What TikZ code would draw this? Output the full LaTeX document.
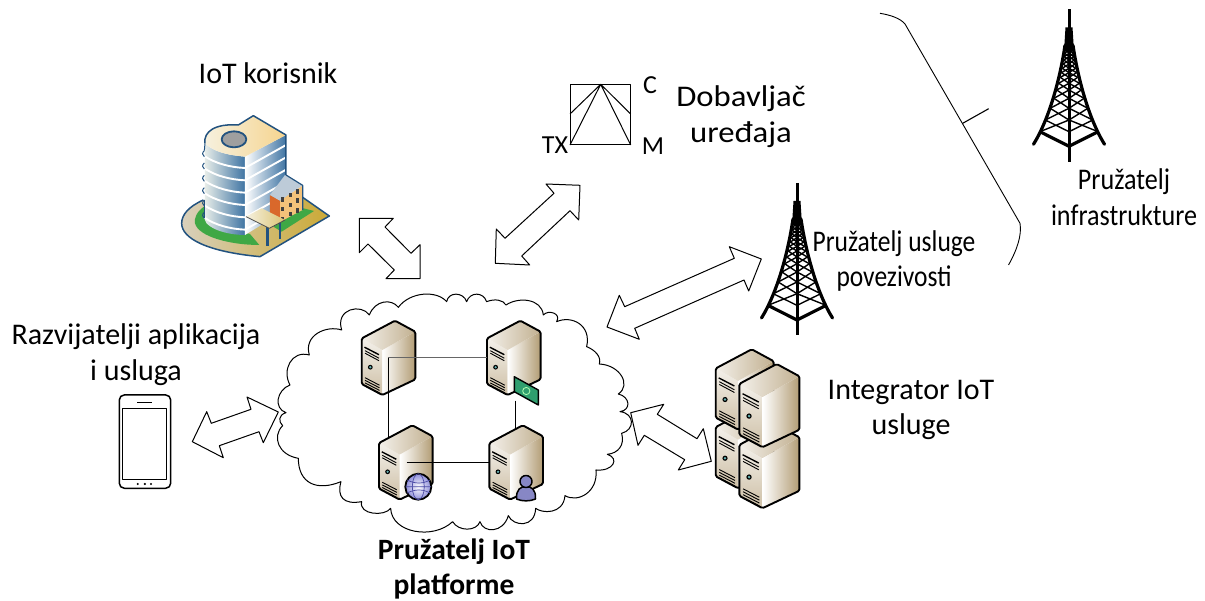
\documentclass[tikz,border=0pt]{standalone}
\usepackage{fontspec}
\setmainfont{Carlito}
\definecolor{srvtan}{HTML}{B29C74}
\definecolor{bldedge}{HTML}{22527F}
\definecolor{bldgreen}{HTML}{3FA845}
\definecolor{bldA}{HTML}{E6ECE8}
\definecolor{bldB}{HTML}{A6CAD6}
\definecolor{bldC}{HTML}{3F74A3}
\definecolor{bldD}{HTML}{F6F1E0}
\definecolor{bldE}{HTML}{F6D48E}
\definecolor{baseA}{HTML}{D8D0BC}
\definecolor{baseB}{HTML}{CBA935}
\definecolor{bldO}{HTML}{D9682B}
\definecolor{bldF}{HTML}{F3C27A}
\definecolor{moneyg}{HTML}{2F9E6E}
\newcommand{\squeezed}[2]{\scalebox{#1}[1]{#2}}
\tikzset{
  lbl/.style={font=\fontsize{30}{35.5}\selectfont,align=center,inner sep=0pt},
  lblsmall/.style={font=\fontsize{26}{30}\selectfont,inner sep=0pt},
  blockarrow/.style={draw=black,fill=white,line width=1pt},
  link/.style={draw=black,line width=1.3pt},
  srvline/.style={draw=black,line width=1.9pt,rounded corners=1.5pt},
  pics/serverbox/.style={code={
    \shade[top color=srvtan!15!white,bottom color=srvtan!65!white] (-33.3,17.7) -- (-12.7,29.3) -- (-12.7,74.3) -- (-33.3,63.3) -- cycle;
    \shade[left color=white,right color=srvtan] (-12.7,29.3) -- (20.3,11) -- (20.3,58.7) -- (-12.7,74.3) -- cycle;
    \shade[left color=srvtan!15!white,right color=srvtan!80!white] (0,0) -- (20.3,11) -- (-12.7,29.3) -- (-33.3,17.7) -- cycle;
    \draw[srvline] (0,0) -- (20.3,11) -- (20.3,58.7) -- (-12.7,74.3) -- (-33.3,63.3) -- (-33.3,17.7) -- cycle;
    \draw[black,line width=1.4pt] (-30.5,26.5) -- (-16,34);
    \draw[black,line width=.9pt] (-30,30) -- (-16,37.5) (-30,32.5) -- (-16,40);
    \fill[black] (-24.7,46.5) circle (2.4);
    \fill[teal!60!white] (-24.7,46.5) circle (1.3);
    \foreach \d in {0,2.6,5.2,7.8}{\draw[black,line width=.9pt] (-30,57+\d) -- (-15.5,64.5+\d);}
  }},
  pics/lattice/.style={code={
    \draw[black,line width=3pt] (0,0) -- (0,152.4);
    \fill[black] (-3.5,18) -- (3.5,18) -- (5,42) -- (-5,42) -- cycle;
    \draw[black,line width=3.2pt,line cap=round] (-4,36) .. controls (-9,70) and (-20,110) .. (-35.5,135);
    \draw[black,line width=3.2pt,line cap=round] (4,36) .. controls (9,70) and (20,110) .. (35.5,135);
    \draw[black,line width=3.2pt] (-29,122.4) -- (0,137) -- (29,122.4);
    \foreach \a/\b in {34/37.4,37.4/40.7,40.7/44,44/47.4,47.4/50.7,50.7/54.7,54.7/59,59/63.4,63.4/68,68/74,74/80.7,80.7/89,89/99,99/110.7,110.7/122.4}{
      \pgfmathsetmacro\xa{3.5+25.5*pow((\a-33)/89,1.7)}
      \pgfmathsetmacro\xb{3.5+25.5*pow((\b-33)/89,1.7)}
      \draw[black,line width=1.4pt] (-\xa,\a) -- (0,\b) (0,\a) -- (-\xb,\b)
        (\xa,\a) -- (0,\b) (0,\a) -- (\xb,\b);
    }
  }}
}
\begin{document}
\begin{tikzpicture}[x=1pt,y=-1pt,line join=round]
\useasboundingbox (0,0) rectangle (1205,601);

% ---- building
\begin{scope}[shift={(170,110)},x=.3333pt,y=-.3333pt]
  \shade[left color=baseA,right color=baseB]
    (100,270) .. controls (55,290) and (35,315) .. (35,340) .. controls (35,385) and (110,425) .. (270,440) -- (478,318) -- (380,250) -- cycle;
  \draw[bldedge,line width=1.5pt]
    (100,270) .. controls (55,290) and (35,315) .. (35,340) .. controls (35,385) and (110,425) .. (270,440) -- (478,318) -- (398,262);
  \fill[bldgreen] (102,290) .. controls (80,305) and (72,325) .. (75,340) .. controls (85,380) and (180,405) .. (268,405) -- (240,372) -- (110,340) -- cycle;
  \fill[bldgreen] (400,295) -- (432,303) -- (335,365) -- (310,350) -- cycle;
  % body left
  \shade[left color=bldA,middle color=bldB,right color=bldC]
    (105,100) -- (105,330) .. controls (110,355) and (170,375) .. (225,375) -- (225,140) .. controls (170,135) and (130,125) .. (105,100);
  % body right
  \shade[left color=white,right color=bldC]
    (225,140) -- (348,75) -- (348,300) -- (225,375) -- cycle;
  \foreach \d in {0,37,74,111,148,185}{
    \draw[white,line width=1.9pt] (103,138+\d) .. controls (135,160+\d) and (180,172+\d) .. (225,174+\d);
    \draw[white,line width=1.9pt] (225,174+\d) -- (350,104+\d);
    \draw[bldedge,line width=1pt] (103,122+\d) .. controls (96,128+\d) and (96,136+\d) .. (103,140+\d);
  }
  \shade[left color=bldD,right color=bldE]
    (105,100) .. controls (100,65) and (135,40) .. (205,45) -- (250,17) -- (348,75) -- (225,140) .. controls (170,135) and (130,125) .. (105,100);
  \draw[bldedge,line width=1.5pt]
    (105,100) .. controls (100,65) and (135,40) .. (205,45) -- (250,17) -- (348,75) -- (348,195);
  \draw[bldedge,line width=1pt] (105,100) -- (103,122);
  \draw[bldedge,line width=1pt] (103,325) -- (103,270);
  \fill[gray!75] (192,88) ellipse (37 and 24);
  \draw[bldedge,line width=1.8pt] (192,88) ellipse (37 and 24);
  % small building
  \fill[bldF] (330,272) -- (398,226) -- (398,300) -- (330,335) -- cycle;
  \fill[bldO] (300,255) -- (330,272) -- (330,335) -- (300,310) -- cycle;
  \fill[bldedge!30!white] (300,255) -- (345,195) -- (398,226) -- (330,272) -- cycle;
  \draw[bldedge,line width=1.2pt] (348,195) -- (398,226) -- (398,300);
  \foreach \i/\j in {337/262,361/248,383/238,337/290,361/278,383/265,337/320,361/305,383/295}{
    \fill[black!75] (\i-4,\j) rectangle (\i+4,\j+13);
  }
  % canopy
  \fill[bldedge] (289,345) rectangle (297,408);
  \fill[bldedge] (326,340) rectangle (334,386);
  \shade[left color=bldD,right color=baseB!70!white] (228,320) -- (275,295) -- (345,330) -- (298,355) -- cycle;
  \draw[black!70,line width=.8pt] (228,320) -- (298,355) -- (345,330);
\end{scope}

% ---- towers
\pic at (1069,9.3) {lattice};
\pic at (797,183) {lattice};

% ---- text
\node[lbl] (user) at (268,73) {IoT korisnik};
\node[lbl] (devprov) at (741,116.5) {\squeezed{1.09}{Dobavljač}\\\squeezed{1.09}{uređaja}};
\node[lbl] (conn) at (894,261) {\squeezed{.85}{Pružatelj usluge}\\\squeezed{.85}{povezivosti}};
\node[lbl] (infra) at (1124,197) {\squeezed{.87}{Pružatelj}\\\squeezed{.87}{infrastrukture}};
\node[lbl] (integ) at (911,410) {Integrator IoT\\usluge};
\node[lbl] (appdev) at (136,354.5) {Razvijatelji aplikacija\\i usluga};
\node[lbl,font=\fontsize{29.5}{35}\selectfont\bfseries] (plat) at (454,569) {Pružatelj IoT\\platforme};
\node[lblsmall] (lc) at (650,85) {C};
\node[lblsmall] (ltx) at (555,145) {TX};
\node[lblsmall] (lm) at (653,146) {M};

% ---- triangle device
\coordinate (sqa) at (570,84.3);
\coordinate (sqb) at (630.7,145);
\coordinate (apex) at (600.7,84.3);
\draw[black,line width=1pt] (sqa) rectangle (sqb);
\draw[black,line width=1pt] (570,114) -- (apex) -- (570,145) (630.7,114) -- (apex) -- (630.7,145);

% ---- bracket
\coordinate (brs) at (880,13.3);
\coordinate (bre) at (1008.5,265);
\draw[black,line width=.9pt] (brs) .. controls (890,15) and (900,18) .. (905,24) -- (1020,223.3) .. controls (1022,235) and (1017,250) .. (bre);
\draw[black,line width=1.1pt] (962.7,123.3) -- (988.7,108.7);

% ---- block arrows
\draw[blockarrow] (359.3,218.3) -- (393.3,218.3) -- (385,227) -- (411,253.3) -- (420,244.7) -- (420,278.7) -- (386,278.7) -- (394.3,270) -- (368,244) -- (359.3,252.7) -- cycle;
\draw[blockarrow] (580,185.3) -- (578.7,220) -- (570,210.7) -- (521.7,256) -- (529.7,265) -- (495.3,263.3) -- (496.3,229) -- (505,238.3) -- (554,193.3) -- (546,184) -- cycle;
\draw[blockarrow] (761.3,259) -- (748.7,291) -- (744,280) -- (634.7,328.3) -- (639.3,339.3) -- (607,327) -- (619.3,295.3) -- (624.7,306.7) -- (734.3,258.3) -- (729.3,246.7) -- cycle;
\draw[blockarrow] (278.3,412) -- (263.3,442.7) -- (259,431.7) -- (219.3,445.7) -- (223.3,457.7) -- (192.3,441.7) -- (206.7,411.7) -- (211.3,423.3) -- (251,409.3) -- (247,397) -- cycle;

% ---- cloud
\begin{scope}[shift={(270,270)},x=.3333pt,y=-.3333pt]
\draw[black,line width=1pt,fill=white]
 (48,428) .. controls (10,415) and (20,360) .. (60,345)
 .. controls (35,300) and (65,240) .. (118,255)
 .. controls (100,195) and (170,165) .. (215,180)
 .. controls (195,115) and (275,100) .. (298,135)
 .. controls (315,90) and (365,85) .. (385,112)
 .. controls (420,65) and (500,60) .. (530,95)
 .. controls (535,65) and (580,65) .. (590,95)
 .. controls (600,65) and (640,65) .. (650,95)
 .. controls (675,85) and (700,90) .. (708,105)
 .. controls (745,80) and (815,85) .. (820,135)
 .. controls (835,118) and (875,130) .. (860,155)
 .. controls (905,135) and (965,165) .. (950,230)
 .. controls (975,240) and (995,260) .. (988,282)
 .. controls (1050,285) and (1085,345) .. (1045,372)
 .. controls (1080,380) and (1085,420) .. (1050,425)
 .. controls (1095,430) and (1095,480) .. (1055,490)
 .. controls (1065,525) and (1045,550) .. (1012,553)
 .. controls (1050,565) and (1030,605) .. (978,600)
 .. controls (985,665) and (925,700) .. (885,677)
 .. controls (880,735) and (815,730) .. (797,715)
 .. controls (795,775) and (730,770) .. (715,737)
 .. controls (700,790) and (640,790) .. (630,755)
 .. controls (620,785) and (565,785) .. (548,755)
 .. controls (490,810) and (365,790) .. (362,715)
 .. controls (345,740) and (265,735) .. (275,695)
 .. controls (220,705) and (200,680) .. (213,635)
 .. controls (140,665) and (85,640) .. (85,565)
 .. controls (25,555) and (5,500) .. (38,467)
 .. controls (25,455) and (25,435) .. (48,428) -- cycle;
\end{scope}
\draw[blockarrow] (630.7,412.7) -- (663.7,404.3) -- (657.3,414.3) -- (697,438.7) -- (703.3,428.7) -- (711.3,461.3) -- (678.3,470) -- (684.7,459.7) -- (644.3,435.3) -- (638,445.3) -- cycle;

% ---- servers in the cloud
\pic at (395,320.7) {serverbox};
\pic at (520.3,320.7) {serverbox};
\pic at (412.3,425.3) {serverbox};
\pic at (522.7,425.3) {serverbox};
\coordinate (s1c) at (388.3,357.7);
\coordinate (s2w) at (487,357.7);
\coordinate (s3n) at (388.3,436.7);
\coordinate (s3c) at (406.7,462.3);
\coordinate (s4w) at (490,462.3);
\coordinate (s2s) at (515.7,400.7);
\coordinate (s4n) at (515.7,428.3);
\draw[black!60,line width=1.6pt] (s2w) -- (s1c);
\draw[link] (s1c) -- (s3n);
\draw[link] (s3c) -- (s4w);
\draw[link] (s2s) -- (s4n);
% money
\draw[black,line width=1.4pt,fill=moneyg] (514.3,376.7) -- (538.3,390) -- (538.3,405) -- (514.3,391.7) -- cycle;
\draw[green!30!white,line width=.8pt,fill=moneyg] (526.3,391) circle (3.6);
% globe
\shade[inner color=white,outer color=blue!50!gray!60!white] (418.3,486.7) circle (13);
\draw[black,line width=1.8pt] (418.3,486.7) circle (13);
\draw[blue!50!black!70,line width=.7pt] (418.3,486.7) ellipse (6 and 13) (405.5,486.7) -- (431,486.7) (407,480) .. controls (415,484) and (423,484) .. (430,480) (407,493) .. controls (415,489) and (423,489) .. (430,493);
% person
\draw[black,line width=1.5pt,fill=blue!35!gray!70!white] (516.5,499) .. controls (516,489) and (521,486.5) .. (526,486.5) .. controls (531,486.5) and (536,489) .. (535.5,499) .. controls (530,501.5) and (522,501.5) .. (516.5,499) -- cycle;
\draw[black,line width=1.5pt,fill=blue!35!gray!70!white] (526,481.5) circle (6);

% ---- stacked servers (integrator)
\pic[scale=1.08] at (751.7,408) {serverbox};
\pic[scale=1.08] at (751.7,349.3) {serverbox};
\pic[scale=1.12] at (776.7,425) {serverbox};
\pic[scale=1.12] at (776.7,364) {serverbox};

% ---- phone
\node[draw=black,line width=1.5pt,rounded corners=5pt,fill=white,minimum width=51.4pt,minimum height=93.3pt,inner sep=0pt] (phone) at (145,441.6) {};
\node[draw=black,line width=1.3pt,minimum width=44pt,minimum height=71pt,inner sep=0pt] (screen) at (144.7,443.8) {};
\draw[black,line width=1.3pt] (137.3,402.3) -- (151.7,402.3);
\fill[black] (137.7,484) circle (1.2) (144.9,484) circle (1.2) (151,484) circle (1.2);
\end{tikzpicture}
\end{document}
